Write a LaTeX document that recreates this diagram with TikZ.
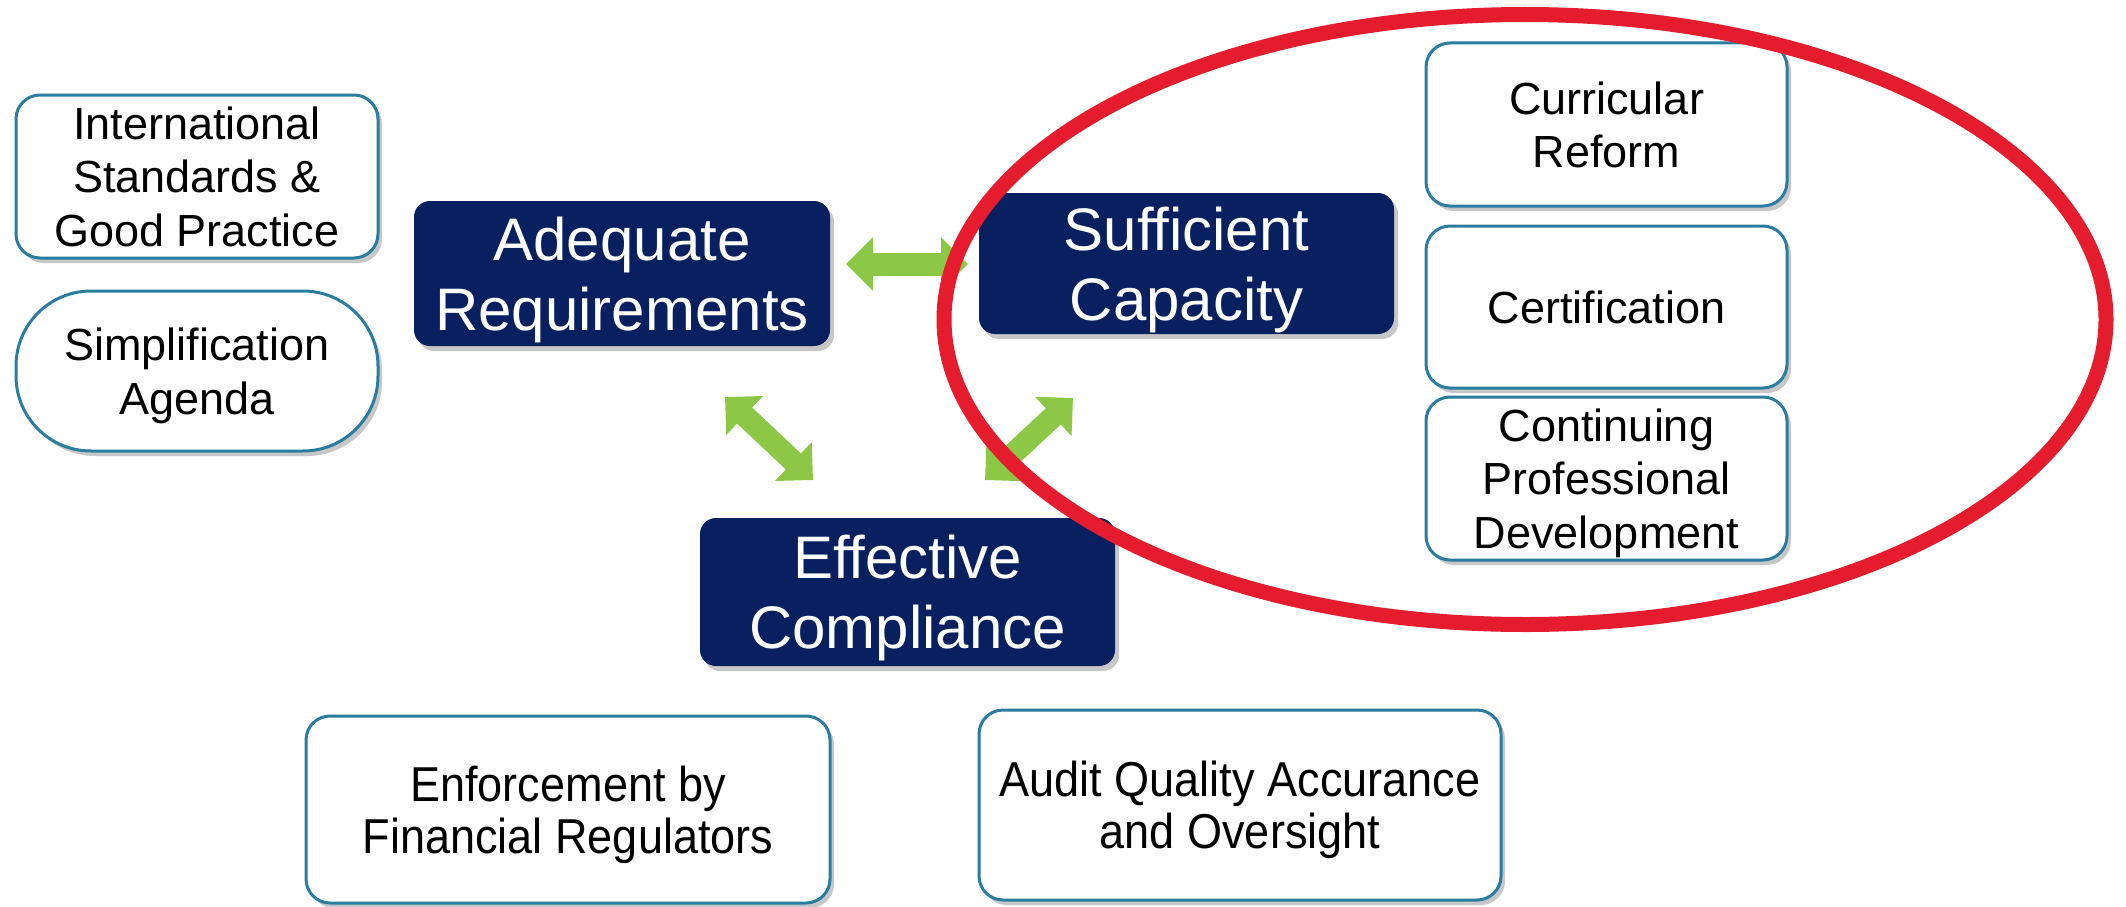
\documentclass[tikz,border=0pt]{standalone}
\usepackage{fontspec}
\setmainfont{Liberation Sans}
\newfontfamily\narrowsans[FakeStretch=0.92]{Liberation Sans}
\usetikzlibrary{shadows,arrows.meta,calc}
\definecolor{navy}{RGB}{8,32,96}
\definecolor{boxline}{RGB}{42,124,160}
\definecolor{agreen}{RGB}{140,200,70}
\definecolor{ared}{RGB}{228,28,45}
\begin{document}
\begin{tikzpicture}[x=1pt,y=-1pt,
  softshadow/.style={drop shadow={shadow xshift=4pt,shadow yshift=-5pt,fill=black,opacity=0.22}},
  darkbox/.style={fill=navy,rounded corners=16pt,text=white,align=center,inner sep=0pt,
    text depth=0pt,font=\fontsize{60}{70}\selectfont,softshadow},
  lightbox/.style={draw=boxline,line width=3pt,fill=white,rounded corners=24pt,align=center,
    inner sep=0pt,text depth=0pt,font=\fontsize{45}{53.5}\selectfont,softshadow},
  narrowbox/.style={lightbox,font=\narrowsans\fontsize{49}{52}\selectfont},
  garrow/.style={draw=agreen,line width=23pt,
    {Triangle[length=27pt,width=52pt]}-{Triangle[length=27pt,width=52pt]}}
]
\useasboundingbox (0,0) rectangle (2126,907);

% left boxes
\node[lightbox,minimum width=362pt,minimum height=163pt] (intl) at (197,176.5)
  {International\\Standards \&\\Good Practice};
\node[lightbox,rounded corners=75pt,minimum width=362pt,minimum height=160pt] (simp) at (197,371)
  {Simplification\\Agenda};

% main dark boxes
\node[darkbox,minimum width=416pt,minimum height=145pt] (adeq) at (622,273.5)
  {Adequate\\Requirements};
\node[darkbox,minimum width=415pt,minimum height=141pt] (suff) at (1186.5,263.5)
  {Sufficient\\Capacity};
\node[darkbox,minimum width=415pt,minimum height=148pt] (eff) at (907.5,592)
  {Effective\\Compliance};

% right boxes
\node[lightbox,minimum width=361pt,minimum height=163pt] (curr) at (1606.5,124.5)
  {Curricular\\Reform};
\node[lightbox,minimum width=361pt,minimum height=162pt] (cert) at (1606.5,307)
  {Certification};
\node[lightbox,minimum width=361pt,minimum height=163pt] (cont) at (1606.5,478.5)
  {Continuing\\Professional\\Development};

% bottom boxes
\node[narrowbox,minimum width=524pt,minimum height=187pt] (enf) at (568,809.5)
  {Enforcement by\\Financial Regulators};
\node[narrowbox,minimum width=522pt,minimum height=190pt] (aud) at (1240,805)
  {Audit Quality Accurance\\and Oversight};

% green double arrows
\coordinate (ha) at (846,264);
\coordinate (hb) at (968,264);
\coordinate (da) at (725,397);
\coordinate (db) at (813,480);
\coordinate (ea) at (1073,398);
\coordinate (eb) at (985,480);
\draw[garrow] (ha) -- (hb);
\draw[garrow,line width=22pt] (da) -- (db);
\draw[garrow,line width=22pt] (ea) -- (eb);

% red ellipse
\draw[ared,line width=15pt] (1525,319.5) ellipse [x radius=581pt,y radius=305pt];
\end{tikzpicture}
\end{document}
